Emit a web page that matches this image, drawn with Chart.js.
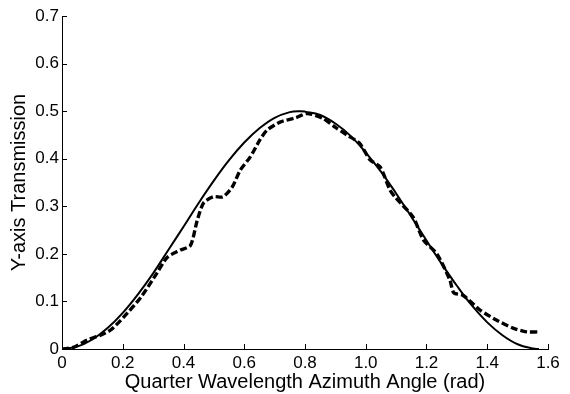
<!DOCTYPE html>
<html>
<head>
<meta charset="utf-8">
<script src="https://cdn.jsdelivr.net/npm/chart.js@4"></script>
<style>
  html, body { margin: 0; padding: 0; background: #fff; }
  #wrap { width: 570px; height: 394px; }
</style>
</head>
<body>
<div id="wrap"><canvas id="c" width="570" height="394"></canvas></div>
<script>
// Solid curve (theory)
const solidX = [0, 0.05, 0.1, 0.15, 0.2, 0.25, 0.3, 0.35, 0.4, 0.45, 0.5, 0.55, 0.6, 0.65, 0.7, 0.75, 0.785, 0.8, 0.85, 0.9, 0.95, 1.0, 1.05, 1.1, 1.15, 1.2, 1.25, 1.3, 1.35, 1.4, 1.45, 1.5, 1.55, 1.57];
const solidY = [0, 0.005, 0.020, 0.044, 0.076, 0.115, 0.159, 0.208, 0.257, 0.307, 0.354, 0.397, 0.434, 0.464, 0.486, 0.498, 0.500, 0.499, 0.492, 0.474, 0.448, 0.413, 0.373, 0.327, 0.278, 0.228, 0.179, 0.133, 0.091, 0.056, 0.029, 0.010, 0.001, 0];

const dashX = [0, 0.04, 0.084, 0.127, 0.16, 0.203, 0.26, 0.313, 0.347, 0.39, 0.423, 0.445, 0.466, 0.498, 0.53, 0.56, 0.587, 0.62, 0.652, 0.675, 0.718, 0.77, 0.806, 0.859, 0.9, 0.938, 0.98, 1.015, 1.047, 1.08, 1.10, 1.156, 1.19, 1.234, 1.277, 1.29, 1.32, 1.376, 1.43, 1.485, 1.53, 1.567];
const dashY = [0, 0.004, 0.019, 0.029, 0.040, 0.067, 0.109, 0.160, 0.193, 0.208, 0.218, 0.270, 0.307, 0.320, 0.320, 0.340, 0.376, 0.404, 0.440, 0.460, 0.477, 0.486, 0.495, 0.485, 0.466, 0.450, 0.432, 0.397, 0.383, 0.334, 0.317, 0.277, 0.229, 0.200, 0.145, 0.118, 0.113, 0.082, 0.061, 0.044, 0.036, 0.036];

// Tick labels
const xTicks = [0, 0.2, 0.4, 0.6, 0.8, 1, 1.2, 1.4, 1.6];
const yTicks = [0, 0.1, 0.2, 0.3, 0.4, 0.5, 0.6, 0.7];

const xTitle = 'Quarter Wavelength Azimuth Angle (rad)';
const yTitle = 'Y-axis Transmission';

const pts = (xs, ys) => xs.map((x, i) => ({ x: x, y: ys[i] }));

const inwardTicks = {
  id: 'inwardTicks',
  afterDraw(chart) {
    const ctx = chart.ctx;
    const a = chart.chartArea;
    const xs = chart.scales.x, ys = chart.scales.y;
    ctx.save();
    ctx.strokeStyle = '#000';
    ctx.lineWidth = 1;
    ctx.beginPath();
    xs.ticks.forEach(t => {
      const px = Math.round(xs.getPixelForValue(t.value)) + 0.5;
      ctx.moveTo(px, a.bottom);
      ctx.lineTo(px, a.bottom - 5);
    });
    ys.ticks.forEach(t => {
      const py = Math.round(ys.getPixelForValue(t.value)) + 0.5;
      ctx.moveTo(a.left, py);
      ctx.lineTo(a.left + 5, py);
    });
    ctx.stroke();
    ctx.restore();
  }
};

const font = 'Liberation Sans, Arial, Helvetica, sans-serif';

new Chart(document.getElementById('c'), {
  type: 'scatter',
  data: {
    datasets: [
      {
        data: pts(solidX, solidY),
        showLine: true,
        borderColor: '#000',
        borderWidth: 2,
        pointRadius: 0,
        tension: 0.4,
        fill: false
      },
      {
        data: pts(dashX, dashY),
        showLine: true,
        borderColor: '#000',
        borderWidth: 3.4,
        borderDash: [7, 3],
        pointRadius: 0,
        tension: 0.25,
        fill: false
      }
    ]
  },
  options: {
    responsive: false,
    animation: false,
    layout: { padding: { top: 16, right: 22, left: 0, bottom: 0 } },
    plugins: { legend: { display: false }, tooltip: { enabled: false } },
    scales: {
      x: {
        type: 'linear',
        min: 0, max: 1.6,
        afterBuildTicks: s => { s.ticks = xTicks.map(v => ({ value: v })); },
        afterFit: s => { s.height = 45; },
        ticks: { color: '#000', font: { family: font, size: 17 }, padding: 4, maxRotation: 0, autoSkip: false },
        grid: { drawOnChartArea: false, drawTicks: false },
        border: { color: '#000', width: 1 },
        title: { display: true, text: xTitle, color: '#000', font: { family: font, size: 20 }, padding: { top: 2, bottom: 0 } }
      },
      y: {
        type: 'linear',
        min: 0, max: 0.7,
        afterBuildTicks: s => { s.ticks = yTicks.map(v => ({ value: v })); },
        afterFit: s => { s.width = 62; },
        ticks: { color: '#000', font: { family: font, size: 17 }, padding: 3, autoSkip: false },
        grid: { drawOnChartArea: false, drawTicks: false },
        border: { color: '#000', width: 1 },
        title: { display: true, text: yTitle, color: '#000', font: { family: font, size: 20 }, padding: { top: 7, bottom: 0 } }
      }
    }
  },
  plugins: [inwardTicks]
});
</script>
</body>
</html>
